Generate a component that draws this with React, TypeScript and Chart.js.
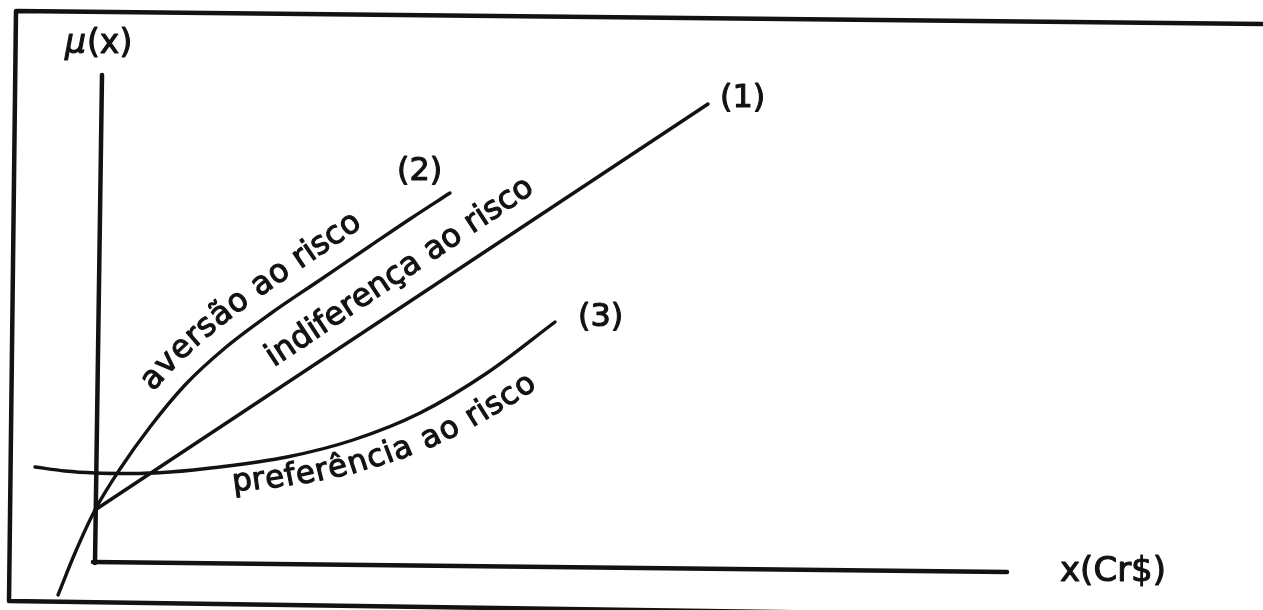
import React, { useEffect, useRef } from "react";
import { Chart, registerables } from "chart.js";

Chart.register(...registerables);

// Data space: x = wealth x (Cr$), y = utility μ(x). Origin = where the axes meet.
const X_MIN = -9.5;
const X_MAX = 116.8;
const Y_MIN = -4.8;
const Y_MAX = 56.2;

// (1) indiferença ao risco — straight line
const indifX = [0, 61.3];
const indifY = [5.2, 45.8];

// (2) aversão ao risco — concave
const aversX = [-3.7, -2.0, 0, 2.5, 5.5, 9.0, 13.0, 17.5, 22.5, 27.5, 31.5, 35.5];
const aversY = [-3.3, 0.9, 5.2, 9.3, 13.5, 17.7, 21.4, 24.8, 28.2, 31.6, 34.3, 36.9];

// (3) preferência ao risco — convex
const prefX = [-6.0, -3.0, 0, 3.5, 7.5, 12.5, 19.2, 25.8, 32.5, 39.2, 46.0];
const prefY = [9.5, 9.1, 8.9, 8.85, 9.0, 9.5, 10.5, 12.2, 14.9, 18.9, 24.0];

// Axes (hand drawn, slightly tilted)
const yAxisX = [0.7, 0];
const yAxisY = [48.7, -0.1];
const xAxisX = [-0.2, 91.2];
const xAxisY = [0, -1.0];

// Outer frame (open on the right)
const frameX = [116.8, -7.9, -8.6, 116.8];
const frameY = [53.8, 55.1, -3.9, -5.7];

// Curve tags
const tagText = ["(1)", "(2)", "(3)"];
const tagX = [62.5, 30.2, 48.3];
const tagY = [45.5, 38.2, 23.6];

// Curve names, written along their curves (start given as x on the curve)
const nameText = ["indiferença ao risco", "aversão ao risco", "preferência ao risco"];
const nameStartX = [19.0, 7.3, 13.5];

// Axis titles
const yTitleX = -3.0;
const yTitleY = 50.9;
const xTitle = "x(Cr$)";
const xTitleX = 96.5;
const xTitleY = -1.9;

// ---- styling ----
const INK = "#121212";
const FONT = '"DejaVu Sans", "Liberation Sans", sans-serif';
const nameSize = [32, 32, 31];
// perpendicular offset (px) of the x-height centre from the curve
const nameSide = [1, 1, -1]; // 1 = above the curve, -1 = below
const nameOffStart = [29, 28, 17];
const nameOffEnd = [31, 29, 33];

type P = { x: number; y: number };
const pts = (xs: number[], ys: number[]): P[] => xs.map((v, i) => ({ x: v, y: ys[i] }));

function catmull(p: P[], samples = 16): P[] {
  if (p.length < 3) {
    const out: P[] = [];
    for (let k = 0; k <= 100; k++) {
      const t = k / 100;
      out.push({ x: p[0].x + (p[1].x - p[0].x) * t, y: p[0].y + (p[1].y - p[0].y) * t });
    }
    return out;
  }
  const out: P[] = [];
  for (let i = 0; i < p.length - 1; i++) {
    const p0 = p[Math.max(0, i - 1)], p1 = p[i], p2 = p[i + 1], p3 = p[Math.min(p.length - 1, i + 2)];
    for (let k = 0; k < samples; k++) {
      const t = k / samples, t2 = t * t, t3 = t2 * t;
      const f = (a: number, b: number, c: number, d: number) =>
        0.5 * (2 * b + (-a + c) * t + (2 * a - 5 * b + 4 * c - d) * t2 + (-a + 3 * b - 3 * c + d) * t3);
      out.push({ x: f(p0.x, p1.x, p2.x, p3.x), y: f(p0.y, p1.y, p2.y, p3.y) });
    }
  }
  out.push(p[p.length - 1]);
  return out;
}

function drawOnPath(
  ctx: CanvasRenderingContext2D,
  text: string,
  path: P[],
  startPx: number,
  side: number,
  off0: number,
  off1: number,
  xh: number
) {
  const n = path.length;
  const a = path[n - 2], b = path[n - 1];
  const ext = { x: b.x + (b.x - a.x) * 40, y: b.y + (b.y - a.y) * 40 };
  const pp = [...path, ext];
  const cum = [0];
  for (let i = 1; i < pp.length; i++) {
    cum.push(cum[i - 1] + Math.hypot(pp[i].x - pp[i - 1].x, pp[i].y - pp[i - 1].y));
  }
  const at = (s: number) => {
    let i = 1;
    while (i < pp.length - 1 && cum[i] < s) i++;
    const seg = cum[i] - cum[i - 1] || 1;
    const t = (s - cum[i - 1]) / seg;
    const p0 = pp[i - 1], p1 = pp[i];
    return {
      x: p0.x + (p1.x - p0.x) * t,
      y: p0.y + (p1.y - p0.y) * t,
      dx: (p1.x - p0.x) / seg,
      dy: (p1.y - p0.y) / seg,
    };
  };
  let s0 = 0;
  for (let i = 1; i < pp.length; i++) {
    if (pp[i].x >= startPx) {
      const t = (startPx - pp[i - 1].x) / (pp[i].x - pp[i - 1].x || 1);
      s0 = cum[i - 1] + (cum[i] - cum[i - 1]) * t;
      break;
    }
  }
  const chars = Array.from(text);
  const widths = chars.map((c) => ctx.measureText(c).width);
  const total = widths.reduce((u, v) => u + v, 0);
  let s = s0;
  chars.forEach((c, i) => {
    const sc = s + widths[i] / 2;
    const q = at(sc);
    const frac = (sc - s0) / total;
    const off = off0 + (off1 - off0) * frac;
    const nx = q.dy, ny = -q.dx; // "above" normal
    const d = side > 0 ? off - xh / 2 : -(off + xh / 2);
    ctx.save();
    ctx.translate(q.x + nx * d, q.y + ny * d);
    ctx.rotate(Math.atan2(q.dy, q.dx));
    ctx.fillText(c, 0, 0);
    ctx.strokeText(c, 0, 0);
    ctx.restore();
    s += widths[i];
  });
}

const labelPlugin = {
  id: "curveLabels",
  afterDatasetsDraw(chart: any) {
    const { ctx } = chart;
    const sx = chart.scales.x;
    const sy = chart.scales.y;
    const toPx = (xs: number[], ys: number[]) =>
      xs.map((v, i) => ({ x: sx.getPixelForValue(v), y: sy.getPixelForValue(ys[i]) }));
    ctx.save();
    ctx.fillStyle = INK;
    ctx.strokeStyle = INK;
    ctx.lineWidth = 1.1;
    ctx.lineJoin = "round";
    ctx.textBaseline = "alphabetic";

    // tags
    ctx.font = `32px ${FONT}`;
    ctx.textAlign = "left";
    tagText.forEach((t, i) => {
      const x = sx.getPixelForValue(tagX[i]);
      const y = sy.getPixelForValue(tagY[i]);
      ctx.fillText(t, x, y);
      ctx.strokeText(t, x, y);
    });

    // names along curves
    ctx.textAlign = "center";
    const paths = [
      catmull(toPx(indifX, indifY)),
      catmull(toPx(aversX, aversY)),
      catmull(toPx(prefX, prefY)),
    ];
    nameText.forEach((t, i) => {
      ctx.font = `${nameSize[i]}px ${FONT}`;
      drawOnPath(
        ctx, t, paths[i], sx.getPixelForValue(nameStartX[i]),
        nameSide[i], nameOffStart[i], nameOffEnd[i], nameSize[i] * 0.547
      );
    });

    // μ(x) with italic mu
    ctx.textAlign = "left";
    let px = sx.getPixelForValue(yTitleX);
    const py = sy.getPixelForValue(yTitleY);
    ctx.font = `italic 33px ${FONT}`;
    ctx.fillText("μ", px, py);
    ctx.strokeText("μ", px, py);
    px += ctx.measureText("μ").width + 1;
    ctx.font = `33px ${FONT}`;
    ctx.fillText("(x)", px, py);
    ctx.strokeText("(x)", px, py);
    const tx = sx.getPixelForValue(xTitleX);
    const ty = sy.getPixelForValue(xTitleY);
    ctx.font = `34px ${FONT}`;
    ctx.fillText(xTitle, tx, ty);
    ctx.strokeText(xTitle, tx, ty);
    ctx.restore();
  },
};

export default function App() {
  const ref = useRef<HTMLCanvasElement | null>(null);

  useEffect(() => {
    document.body.style.margin = "0";
    if (!ref.current) return;
    const line = (data: P[], width: number, smooth: boolean) => ({
      data,
      showLine: true,
      borderColor: INK,
      backgroundColor: INK,
      borderWidth: width,
      pointRadius: 0,
      pointHoverRadius: 0,
      fill: false,
      tension: 0,
      cubicInterpolationMode: smooth ? "monotone" : "default",
      borderCapStyle: "round",
      borderJoinStyle: "round",
    });
    const chart = new Chart(ref.current, {
      type: "scatter",
      data: {
        datasets: [
          line(pts(frameX, frameY), 4.5, false),
          line(pts(yAxisX, yAxisY), 4.5, false),
          line(pts(xAxisX, xAxisY), 4.5, false),
          line(pts(indifX, indifY), 3.4, false),
          line(pts(aversX, aversY), 3.4, true),
          line(pts(prefX, prefY), 3.4, true),
        ] as any,
      },
      options: {
        responsive: false,
        animation: false,
        events: [],
        layout: { padding: 0 },
        plugins: { legend: { display: false }, tooltip: { enabled: false } },
        scales: {
          x: { type: "linear", min: X_MIN, max: X_MAX, display: false },
          y: { type: "linear", min: Y_MIN, max: Y_MAX, display: false },
        },
      } as any,
      plugins: [labelPlugin],
    });
    return () => chart.destroy();
  }, []);

  return (
    <div style={{ position: "absolute", left: 0, top: 0, width: 1263, height: 610, background: "#fff" }}>
      <canvas ref={ref} width={1263} height={610} style={{ display: "block" }} />
    </div>
  );
}
